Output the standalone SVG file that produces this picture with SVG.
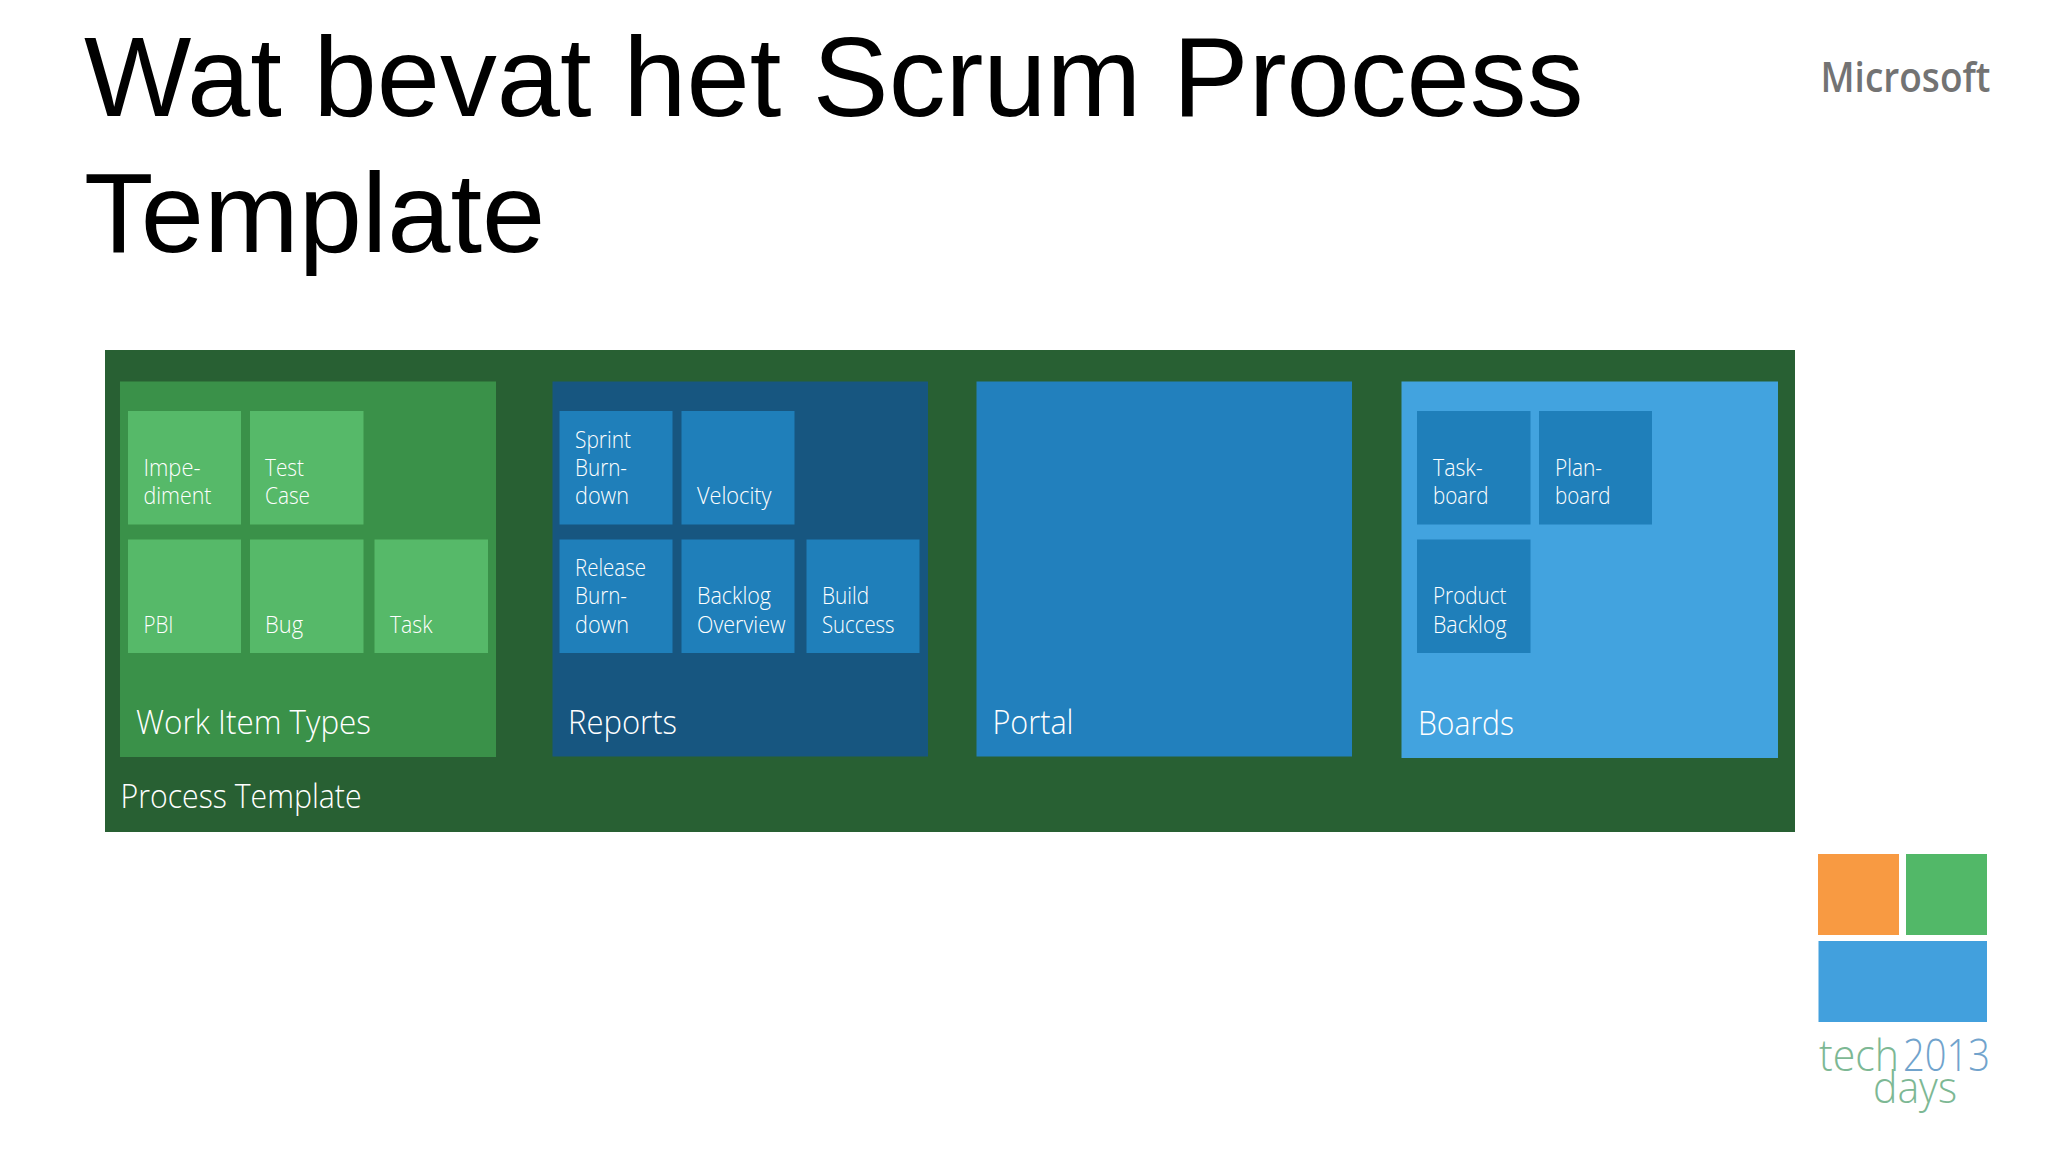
<svg xmlns="http://www.w3.org/2000/svg" width="2048" height="1152" viewBox="0 0 2048 1152">
<style>
text{font-family:"Open Sans","Noto Sans","Liberation Sans",sans-serif}
.title{font-family:"Liberation Sans",Arial,sans-serif;font-size:113.7px;fill:#000}
.t{font-size:24px;font-weight:300;fill:#fff}
.h{font-size:33px;font-weight:300;fill:#fff}
.g{fill:#56b969}.b{fill:#1f7fba}
</style>
<rect width="2048" height="1152" fill="#fff"/>
<text class="title" x="84" y="115.500">Wat bevat het Scrum Process</text>
<text class="title" x="84" y="251.500">Template</text>
<g id="logo-microsoft"><text x="1820.500" y="92" font-size="42" font-weight="600" fill="#737373" textLength="170" lengthAdjust="spacingAndGlyphs">Microsoft</text></g>
<g id="process-template">
<rect x="105" y="350" width="1690" height="482" fill="#286033"/>
<text class="h" x="120.500" y="808" textLength="241" lengthAdjust="spacingAndGlyphs">Process Template</text>
</g>
<g id="work-item-types">
<rect x="120" y="381.500" width="376" height="375.500" fill="#3a9149"/>
<text class="h" x="136" y="733.500" textLength="235" lengthAdjust="spacingAndGlyphs">Work Item Types</text>
</g>
<g id="impediment"><rect class="g" x="128" y="411" width="113" height="113.500"/><text class="t" x="143.500" y="476" textLength="57" lengthAdjust="spacingAndGlyphs">Impe-</text><text class="t" x="143.500" y="504" textLength="68" lengthAdjust="spacingAndGlyphs">diment</text></g>
<g id="test-case"><rect class="g" x="250" y="411" width="113.500" height="113.500"/><text class="t" x="265" y="476" textLength="39" lengthAdjust="spacingAndGlyphs">Test</text><text class="t" x="265" y="504" textLength="45" lengthAdjust="spacingAndGlyphs">Case</text></g>
<g id="pbi"><rect class="g" x="128" y="539.500" width="113" height="113.500"/><text class="t" x="143.500" y="632.500" textLength="30" lengthAdjust="spacingAndGlyphs">PBI</text></g>
<g id="bug"><rect class="g" x="250" y="539.500" width="113.500" height="113.500"/><text class="t" x="265" y="632.500" textLength="38" lengthAdjust="spacingAndGlyphs">Bug</text></g>
<g id="task"><rect class="g" x="374.500" y="539.500" width="113.500" height="113.500"/><text class="t" x="390" y="632.500" textLength="42.500" lengthAdjust="spacingAndGlyphs">Task</text></g>
<g id="reports">
<rect x="552.500" y="381.500" width="375.500" height="375" fill="#175680"/>
<text class="h" x="568" y="733.500" textLength="109" lengthAdjust="spacingAndGlyphs">Reports</text>
</g>
<g id="sprint-burndown"><rect class="b" x="559.500" y="411" width="113" height="113.500"/><text class="t" x="575" y="447.500" textLength="56" lengthAdjust="spacingAndGlyphs">Sprint</text><text class="t" x="575" y="476" textLength="52" lengthAdjust="spacingAndGlyphs">Burn-</text><text class="t" x="575" y="504" textLength="54" lengthAdjust="spacingAndGlyphs">down</text></g>
<g id="velocity"><rect class="b" x="681.500" y="411" width="113" height="113.500"/><text class="t" x="697" y="504" textLength="74.500" lengthAdjust="spacingAndGlyphs">Velocity</text></g>
<g id="release-burndown"><rect class="b" x="559.500" y="539.500" width="113" height="113.500"/><text class="t" x="575" y="575.500" textLength="71" lengthAdjust="spacingAndGlyphs">Release</text><text class="t" x="575" y="604" textLength="52" lengthAdjust="spacingAndGlyphs">Burn-</text><text class="t" x="575" y="632.500" textLength="54" lengthAdjust="spacingAndGlyphs">down</text></g>
<g id="backlog-overview"><rect class="b" x="681.500" y="539.500" width="113" height="113.500"/><text class="t" x="697" y="604" textLength="74" lengthAdjust="spacingAndGlyphs">Backlog</text><text class="t" x="697" y="632.500" textLength="88.500" lengthAdjust="spacingAndGlyphs">Overview</text></g>
<g id="build-success"><rect class="b" x="806.500" y="539.500" width="113" height="113.500"/><text class="t" x="822" y="604" textLength="47" lengthAdjust="spacingAndGlyphs">Build</text><text class="t" x="822" y="632.500" textLength="72.500" lengthAdjust="spacingAndGlyphs">Success</text></g>
<g id="portal">
<rect x="976.500" y="381.500" width="375.500" height="375" fill="#2280bd"/>
<text class="h" x="992.500" y="733.500" textLength="81" lengthAdjust="spacingAndGlyphs">Portal</text>
</g>
<g id="boards">
<rect x="1401.500" y="381.500" width="376.500" height="376.500" fill="#42a3df"/>
<text class="h" x="1418" y="734.500" textLength="96" lengthAdjust="spacingAndGlyphs">Boards</text>
</g>
<g id="taskboard"><rect class="b" x="1417" y="411" width="113.500" height="113.500"/><text class="t" x="1433" y="476" textLength="49.500" lengthAdjust="spacingAndGlyphs">Task-</text><text class="t" x="1433" y="504" textLength="55.500" lengthAdjust="spacingAndGlyphs">board</text></g>
<g id="planboard"><rect class="b" x="1539" y="411" width="113" height="113.500"/><text class="t" x="1555" y="476" textLength="47" lengthAdjust="spacingAndGlyphs">Plan-</text><text class="t" x="1555" y="504" textLength="55.500" lengthAdjust="spacingAndGlyphs">board</text></g>
<g id="product-backlog"><rect class="b" x="1417" y="539.500" width="113.500" height="113.500"/><text class="t" x="1433" y="604" textLength="73.500" lengthAdjust="spacingAndGlyphs">Product</text><text class="t" x="1433" y="632.500" textLength="73.500" lengthAdjust="spacingAndGlyphs">Backlog</text></g>
<g id="logo-techdays">
<rect x="1818" y="854" width="81" height="81" fill="#f89a42"/>
<rect x="1906" y="854" width="81" height="81" fill="#52b868"/>
<rect x="1818.500" y="941" width="168.500" height="81" fill="#42a0dd"/>
<text x="1819" y="1071" font-size="44" font-weight="300" fill="#7db894" textLength="80" lengthAdjust="spacingAndGlyphs">tech</text>
<text x="1903" y="1071" font-size="44" font-weight="300" fill="#71a3cc" textLength="87" lengthAdjust="spacingAndGlyphs">2013</text>
<text x="1873" y="1103" font-size="44" font-weight="300" fill="#7db894" textLength="84" lengthAdjust="spacingAndGlyphs">days</text>
</g>
</svg>
